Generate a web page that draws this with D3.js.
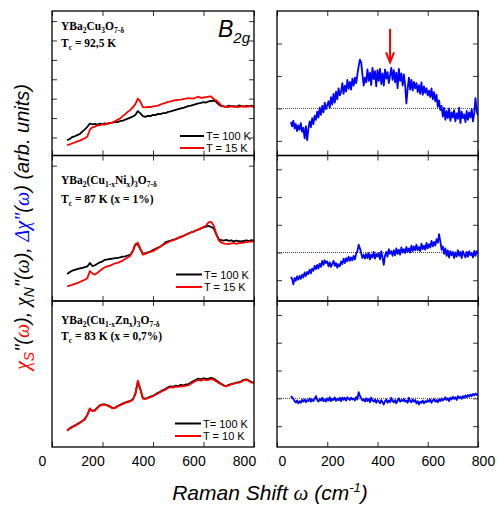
<!DOCTYPE html>
<html>
<head>
<meta charset="utf-8">
<script src="https://cdn.jsdelivr.net/npm/d3@7"></script>
<style>
  body { margin: 0; background: #fff; }
  svg { display: block; font-family: "Liberation Sans", Arial, sans-serif; }
</style>
</head>
<body>
<svg id="chart" width="497" height="508"></svg>
<script>
// Raman shift sampling (cm-1)
const leftShift = d3.range(60, 850, 10);   // 79 samples
const rightShift = d3.range(55, 805, 5);   // 150 samples
const xTicks = [0, 200, 400, 600, 800];

// chi'' spectra, left column (arb. units, 1 unit = one minor tick)
const ybcoNormal = [
  -0.14,-0.08,0.02,0.06,0.12,0.18,0.30,0.42,0.55,0.72,
  0.68,0.70,0.66,0.71,0.69,0.72,0.70,0.75,0.76,0.80,
  0.79,0.85,0.86,0.92,0.97,1.02,1.08,1.16,1.36,1.24,
  1.10,1.06,1.12,1.10,1.17,1.15,1.22,1.20,1.26,1.25,
  1.32,1.34,1.38,1.42,1.46,1.50,1.52,1.58,1.62,1.64,
  1.68,1.72,1.76,1.78,1.82,1.80,1.86,1.88,1.90,1.84,
  1.70,1.62,1.60,1.58,1.64,1.60,1.62,1.58,1.65,1.61,
  1.59,1.63,1.60,1.64,1.58,1.62,1.60,1.63,1.60];
const ybcoSuper = [
  -0.40,-0.36,-0.30,-0.26,-0.20,-0.16,-0.10,-0.04,0.05,0.40,
  0.52,0.56,0.62,0.64,0.68,0.66,0.72,0.74,0.78,0.84,
  0.92,0.98,1.10,1.20,1.32,1.42,1.55,1.72,2.00,1.85,
  1.56,1.55,1.58,1.57,1.60,1.62,1.64,1.70,1.75,1.78,
  1.84,1.86,1.90,1.92,1.94,1.95,1.98,2.00,2.03,2.01,
  2.00,2.06,2.10,2.04,2.06,2.08,2.10,2.12,1.98,1.92,
  1.80,1.66,1.60,1.58,1.56,1.62,1.58,1.60,1.57,1.60,
  1.62,1.58,1.62,1.60,1.57,1.61,1.59,1.62,1.58];
const niNormal = [
  0.45,0.55,0.62,0.66,0.70,0.74,0.76,0.80,0.84,1.02,
  0.86,0.90,0.98,1.05,1.10,1.18,1.20,1.22,1.24,1.26,
  1.28,1.30,1.34,1.36,1.40,1.44,1.62,1.95,1.98,1.72,
  1.48,1.52,1.56,1.60,1.68,1.74,1.80,1.86,1.96,2.08,
  2.12,2.16,2.20,2.24,2.30,2.36,2.40,2.46,2.52,2.58,
  2.62,2.68,2.72,2.78,2.84,2.88,2.92,2.86,2.80,2.50,
  2.24,2.18,2.16,2.20,2.15,2.18,2.12,2.16,2.14,2.12,
  2.15,2.18,2.14,2.19,2.16,2.18,2.15,2.17,2.16];
const niSuper = [
  -0.18,-0.14,-0.10,-0.05,-0.02,0.04,0.10,0.16,0.24,0.60,
  0.48,0.42,0.52,0.62,0.72,0.80,0.84,0.88,0.94,1.00,
  1.02,1.08,1.14,1.22,1.30,1.38,1.62,1.98,2.05,1.74,
  1.44,1.48,1.54,1.58,1.62,1.70,1.78,1.86,1.94,2.02,
  2.08,2.14,2.18,2.24,2.30,2.34,2.40,2.46,2.52,2.58,
  2.62,2.68,2.74,2.80,2.86,2.92,3.10,3.12,2.95,2.55,
  2.18,2.06,2.02,2.00,1.98,2.02,2.04,2.00,2.03,2.05,
  2.06,2.08,2.10,2.12,2.10,2.14,2.12,2.14,2.12];
const znNormal = [
  -0.08,0.02,0.10,0.16,0.24,0.32,0.40,0.50,0.72,1.00,
  0.92,0.95,1.08,1.20,1.24,1.24,1.20,1.14,1.06,1.08,
  1.16,1.22,1.28,1.34,1.38,1.42,1.50,1.76,2.40,2.00,
  1.56,1.54,1.58,1.64,1.68,1.76,1.84,1.90,1.98,2.04,
  2.12,2.16,2.14,2.20,2.18,2.24,2.22,2.26,2.28,2.36,
  2.44,2.50,2.56,2.52,2.58,2.54,2.56,2.60,2.56,2.48,
  2.38,2.30,2.22,2.18,2.24,2.28,2.32,2.36,2.38,2.42,
  2.50,2.52,2.46,2.38,2.36,2.40,2.34,2.38,2.36];
const znSuper = [
  -0.10,0.00,0.08,0.14,0.22,0.30,0.38,0.48,0.70,1.04,
  0.90,0.92,1.06,1.18,1.22,1.22,1.18,1.12,1.04,1.06,
  1.14,1.20,1.26,1.32,1.36,1.40,1.48,1.80,2.46,2.02,
  1.54,1.52,1.56,1.62,1.66,1.74,1.80,1.88,1.94,2.00,
  2.08,2.12,2.10,2.16,2.14,2.18,2.16,2.20,2.22,2.30,
  2.38,2.44,2.50,2.46,2.52,2.48,2.50,2.54,2.50,2.42,
  2.34,2.28,2.20,2.16,2.22,2.26,2.30,2.34,2.36,2.40,
  2.48,2.50,2.44,2.36,2.34,2.38,2.32,2.36,2.34];

// difference spectra, right column (1 unit = one tick)
const ybcoDiff = [
  -0.42,-0.55,-0.38,-0.62,-0.48,-0.70,-0.52,-0.66,-0.45,-0.72,
  -0.60,-0.92,-0.55,-0.98,-0.62,-0.40,-0.58,-0.30,-0.48,-0.22,
  -0.35,-0.10,-0.28,0.02,-0.20,0.08,-0.12,0.18,-0.02,0.10,
  0.22,0.02,0.35,0.12,0.45,0.18,0.52,0.28,0.62,0.40,
  0.50,0.78,0.45,0.70,0.52,0.88,0.60,0.82,0.58,0.92,
  0.70,0.95,0.78,1.05,1.30,1.50,1.42,1.05,0.70,0.95,
  0.80,1.20,0.85,1.10,0.72,1.25,0.90,1.15,0.68,1.18,
  0.85,1.22,0.75,1.08,0.70,1.20,0.92,1.12,0.78,1.02,
  1.25,0.88,1.18,0.80,1.10,0.62,1.22,0.85,1.08,0.70,
  1.05,0.72,0.15,0.60,0.95,0.58,0.88,0.55,0.82,0.62,
  0.78,0.50,0.72,0.45,0.80,0.42,0.68,0.48,0.62,0.40,
  0.55,0.35,0.62,0.28,0.50,0.22,0.42,0.05,0.25,-0.05,
  0.08,-0.25,0.02,-0.35,-0.08,-0.30,0.00,-0.38,-0.12,-0.28,
  -0.05,-0.40,-0.15,-0.32,0.02,-0.45,-0.10,-0.30,-0.18,-0.42,
  -0.08,-0.35,-0.12,-0.28,-0.02,-0.40,-0.15,0.32,-0.10,-0.22];
const niDiff = [
  -0.88,-0.95,-1.15,-0.92,-1.02,-0.86,-0.98,-0.84,-0.95,-0.80,
  -0.90,-0.72,-0.85,-0.70,-0.78,-0.62,-0.75,-0.58,-0.66,-0.48,
  -0.60,-0.45,-0.58,-0.40,-0.52,-0.30,-0.45,-0.28,-0.38,-0.32,
  -0.50,-0.36,-0.52,-0.40,-0.30,-0.48,-0.38,-0.55,-0.42,-0.50,
  -0.32,-0.42,-0.22,-0.38,-0.20,-0.32,-0.15,-0.30,-0.18,-0.28,
  -0.12,-0.25,-0.05,0.05,0.28,0.15,-0.02,-0.20,-0.08,-0.22,
  -0.05,-0.20,-0.02,-0.25,-0.08,-0.18,0.02,-0.22,-0.05,-0.15,
  -0.02,-0.25,0.05,-0.18,-0.45,-0.10,0.02,-0.15,0.12,-0.05,
  0.05,-0.12,0.08,-0.10,0.15,-0.05,0.10,-0.08,0.18,0.00,
  0.12,-0.02,0.20,0.02,0.15,0.00,0.25,0.05,0.22,0.08,
  0.28,0.08,0.20,0.05,0.32,0.12,0.25,0.10,0.35,0.15,
  0.30,0.18,0.42,0.22,0.38,0.25,0.48,0.35,0.66,0.40,
  0.10,0.22,-0.05,0.15,-0.12,0.08,-0.18,0.05,-0.10,0.02,
  -0.20,0.00,-0.15,0.08,-0.12,0.02,-0.20,0.05,-0.08,-0.18,
  0.02,-0.15,0.05,-0.10,-0.02,-0.18,0.06,-0.12,0.05,-0.05];
const znDiff = [
  0.08,0.04,-0.02,-0.10,-0.15,-0.08,-0.18,-0.10,-0.16,-0.05,
  -0.12,-0.04,-0.14,-0.06,-0.10,0.00,-0.12,-0.04,-0.10,-0.02,
  0.08,-0.06,-0.12,-0.02,-0.08,0.02,-0.10,-0.04,-0.12,0.00,
  -0.08,0.04,-0.10,-0.02,-0.06,0.03,-0.09,-0.01,-0.07,0.02,
  -0.10,0.03,-0.05,0.02,-0.08,0.04,-0.02,-0.06,0.02,-0.04,
  0.00,-0.08,0.05,-0.04,0.22,0.10,0.00,-0.08,-0.02,-0.12,
  0.00,-0.10,-0.02,-0.14,0.03,-0.08,-0.12,-0.04,-0.16,-0.06,
  -0.10,-0.18,-0.06,-0.14,-0.22,-0.10,-0.04,-0.16,-0.08,-0.14,
  0.02,-0.10,-0.14,-0.06,-0.18,-0.08,0.00,-0.12,-0.06,-0.10,
  -0.02,-0.12,-0.08,-0.16,0.02,-0.10,-0.14,-0.04,-0.12,-0.06,
  -0.18,-0.10,-0.22,-0.12,-0.16,-0.08,-0.18,-0.10,-0.14,-0.06,
  -0.12,-0.04,-0.16,-0.08,-0.02,-0.12,-0.06,-0.14,-0.04,-0.10,
  0.00,-0.08,-0.04,0.04,-0.06,0.00,-0.10,0.02,-0.04,0.06,
  -0.02,0.04,-0.06,0.08,0.00,0.06,-0.02,0.08,0.02,0.10,
  0.04,0.12,0.06,0.14,0.08,0.16,0.10,0.18,0.12,0.15];

// gap position marked by the arrow (cm-1) and its extent in diff units
const gapArrow = { shift: 450, from: 2.45, to: 1.42 };

const RED = "#ff0000", BLUE = "#0000ff";
const serif = "Liberation Serif, Times New Roman, serif";
const svg = d3.select("#chart");

// layout
const colX = [[52, 254], [277, 478]];
const rowY = [[11, 155.5], [155.5, 301], [301, 447]];
const leftDomain = [-0.93, 6.52];

const rows = [
  {
    normal: ybcoNormal, superc: ybcoSuper, diff: ybcoDiff,
    leftTicks: [0, 1, 2, 3, 4, 5, 6], rightDomain: [-1.45, 3.0], rightTicks: [-1, 0, 1, 2],
    formula: [["YBa"], ["2", 1], ["Cu"], ["3", 1], ["O"], ["7-δ", 1]],
    tc: "92,5 K", textY: [29.5, 47],
    legend: { x: [180, 204], y: [136, 148], labels: ["T= 100 K", "T = 15 K"] }
  },
  {
    normal: niNormal, superc: niSuper, diff: niDiff,
    leftTicks: [6], rightDomain: [-1.75, 3.5], rightTicks: [-1, 0, 1, 2, 3],
    formula: [["YBa"], ["2", 1], ["(Cu"], ["1-x", 1], ["Ni"], ["x", 1], [")"], ["3", 1], ["O"], ["7-δ", 1]],
    tc: "87 K (x = 1%)", textY: [183.5, 203],
    legend: { x: [176, 202], y: [274.5, 287], labels: ["T= 100 K", "T = 15 K"] }
  },
  {
    normal: znNormal, superc: znSuper, diff: znDiff,
    leftTicks: [], rightDomain: [-1.75, 3.5], rightTicks: [-1, 0, 1, 2, 3],
    formula: [["YBa"], ["2", 1], ["(Cu"], ["1-x", 1], ["Zn"], ["x", 1], [")"], ["3", 1], ["O"], ["7-δ", 1]],
    tc: "83 K (x = 0,7%)", textY: [323.5, 340],
    legend: { x: [175, 201], y: [423.5, 436], labels: ["T= 100 K", "T = 10 K"] }
  }
];

const xLeft = d3.scaleLinear().domain([0, 800]).range(colX[0]);
const xRight = d3.scaleLinear().domain([0, 800]).range(colX[1]);

// text with sub/superscript pieces: parts = [{t, shift, size, fill, family}]
function richText(parent, x, y, parts, attrs) {
  const t = parent.append("text").attr("x", x).attr("y", y);
  Object.entries(attrs || {}).forEach(([k, v]) => t.attr(k, v));
  let cur = 0;
  parts.forEach(p => {
    const s = p.shift || 0;
    const ts = t.append("tspan").attr("dy", s - cur).text(p.t);
    cur = s;
    if (p.size) ts.attr("font-size", p.size);
    if (p.fill) ts.attr("fill", p.fill);
    if (p.family) ts.attr("font-family", p.family);
  });
  return t;
}

let clipId = 0;
function panel(x, y, yTicks, showLabels, labelDx) {
  const g = svg.append("g");
  const id = "clip" + (clipId++);
  const [x0, x1] = x.range();
  const [yb, yt] = y.range();
  svg.append("clipPath").attr("id", id).append("rect")
    .attr("x", x0).attr("y", yt).attr("width", x1 - x0).attr("height", yb - yt);

  const tickStyle = sel => {
    sel.select(".domain").remove();
    sel.selectAll(".tick line").attr("stroke", "#333").attr("stroke-width", 1);
  };
  g.append("g").attr("transform", `translate(0,${yb})`)
    .call(d3.axisBottom(x).tickValues(xTicks).tickSize(-5).tickPadding(9)
      .tickFormat(showLabels ? d3.format("d") : ""))
    .call(tickStyle)
    .call(s => s.selectAll("text").attr("dx", labelDx).attr("font-size", 14)
      .attr("fill", "#000").attr("font-family", "Liberation Sans, Arial, sans-serif"));
  g.append("g").attr("transform", `translate(0,${yt})`)
    .call(d3.axisTop(x).tickValues(xTicks).tickSize(-5).tickFormat(""))
    .call(tickStyle);
  g.append("g").attr("transform", `translate(${x0},0)`)
    .call(d3.axisLeft(y).tickValues(yTicks).tickSize(-5).tickFormat(""))
    .call(tickStyle);
  g.append("g").attr("transform", `translate(${x1},0)`)
    .call(d3.axisRight(y).tickValues(yTicks).tickSize(-5).tickFormat(""))
    .call(tickStyle);

  const plot = g.append("g").attr("clip-path", `url(#${id})`);
  g.append("rect").attr("x", x0).attr("y", yt)
    .attr("width", x1 - x0).attr("height", yb - yt)
    .attr("fill", "none").attr("stroke", "#000").attr("stroke-width", 1.3);
  return { g, plot };
}

rows.forEach((r, i) => {
  const last = i === rows.length - 1;
  // left: chi'' normal and superconducting state
  const yL = d3.scaleLinear().domain(leftDomain).range([rowY[i][1], rowY[i][0]]);
  const L = panel(xLeft, yL, r.leftTicks, last, -10);
  const lineL = d3.line().x((d, k) => xLeft(leftShift[k])).y(d => yL(d));
  L.plot.append("path").datum(r.normal).attr("d", lineL)
    .attr("fill", "none").attr("stroke", "#000").attr("stroke-width", 1.8).attr("stroke-linejoin", "round");
  L.plot.append("path").datum(r.superc).attr("d", lineL)
    .attr("fill", "none").attr("stroke", RED).attr("stroke-width", 1.8).attr("stroke-linejoin", "round");

  // compound and Tc labels
  const lab = L.g.append("g").attr("font-family", serif)
    .attr("font-weight", "bold").attr("font-size", 11.5).attr("fill", "#000");
  richText(lab, 61, r.textY[0], r.formula.map(f => f[1] ? { t: f[0], shift: 3, size: 7.5 } : { t: f[0] }));
  richText(lab, 61, r.textY[1], [{ t: "T" }, { t: "c", shift: 3, size: 7.5 }, { t: " = " + r.tc }]);

  // legend
  [["#000", 0], [RED, 1]].forEach(([c, k]) => {
    L.g.append("line").attr("x1", r.legend.x[0]).attr("x2", r.legend.x[1])
      .attr("y1", r.legend.y[k]).attr("y2", r.legend.y[k])
      .attr("stroke", c).attr("stroke-width", 2);
    L.g.append("text").attr("x", r.legend.x[1] + 2).attr("y", r.legend.y[k] + 4)
      .attr("font-size", 11).text(r.legend.labels[k]);
  });

  // right: difference spectrum
  const yR = d3.scaleLinear().domain(r.rightDomain).range([rowY[i][1], rowY[i][0]]);
  const R = panel(xRight, yR, r.rightTicks, last, 5);
  R.plot.append("line").attr("x1", colX[1][0]).attr("x2", colX[1][1])
    .attr("y1", yR(0)).attr("y2", yR(0))
    .attr("stroke", "#444").attr("stroke-width", 1).attr("stroke-dasharray", "1,1");
  const lineR = d3.line().x((d, k) => xRight(rightShift[k])).y(d => yR(d));
  R.plot.append("path").datum(r.diff).attr("d", lineR)
    .attr("fill", "none").attr("stroke", BLUE).attr("stroke-width", 1.8).attr("stroke-linejoin", "round");

  if (i === 0) {
    // symmetry label
    richText(L.g, 218, 37, [{ t: "B" }, { t: "2g", shift: 6, size: 15 }],
      { "font-style": "italic", "font-size": 23 });
    // gap arrow
    const ax = xRight(gapArrow.shift), ay0 = yR(gapArrow.from), ay1 = yR(gapArrow.to);
    R.g.append("line").attr("x1", ax).attr("x2", ax).attr("y1", ay0).attr("y2", ay1)
      .attr("stroke", RED).attr("stroke-width", 2);
    R.g.append("path").attr("d", `M${ax - 4},${ay1 - 10}L${ax},${ay1}L${ax + 4},${ay1 - 10}`)
      .attr("fill", "none").attr("stroke", RED).attr("stroke-width", 2);
  }
});

// axis titles
richText(svg.append("g"), 0, 0, [
  { t: "χ", fill: RED, family: serif },
  { t: "S", shift: 5, size: 14, fill: RED },
  { t: "\"(", fill: "#000" },
  { t: "ω", fill: RED, family: serif },
  { t: "), " },
  { t: "χ", family: serif },
  { t: "N", shift: 5, size: 14 },
  { t: "\"(" },
  { t: "ω", family: serif },
  { t: "), " },
  { t: "Δχ\"", fill: BLUE, family: serif },
  { t: "(" },
  { t: "ω", fill: BLUE, family: serif },
  { t: ") (arb. units)" }
], { "font-size": 20, "font-style": "italic", "text-anchor": "middle",
     transform: "translate(29,227) rotate(-90)" });

richText(svg.append("g"), 270, 500, [
  { t: "Raman Shift " },
  { t: "ω", family: serif },
  { t: " (cm" },
  { t: "-1", shift: -8, size: 13 },
  { t: ")" }
], { "font-size": 21, "font-style": "italic", "text-anchor": "middle" });
</script>
</body>
</html>
